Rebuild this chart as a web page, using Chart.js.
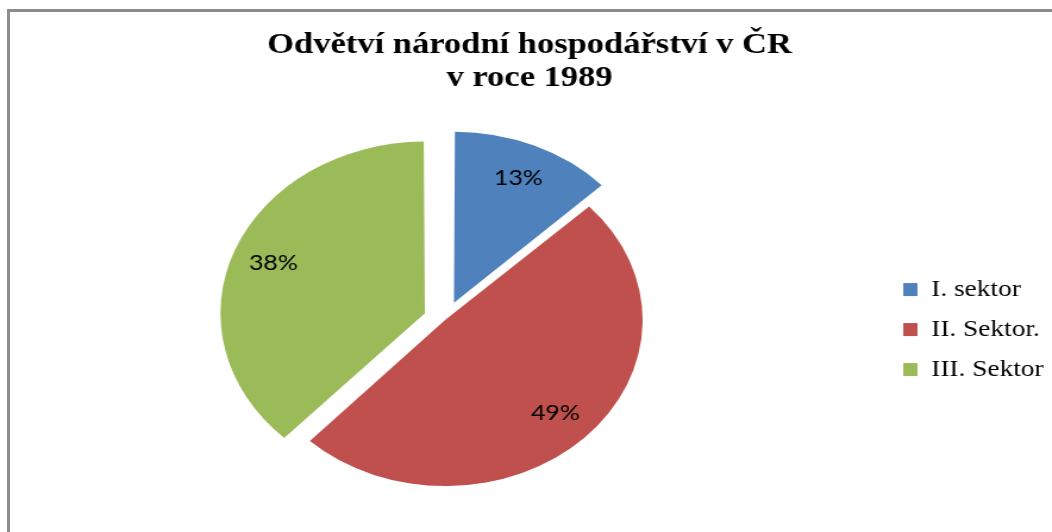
<!DOCTYPE html>
<html>
<head>
<meta charset="utf-8">
<script src="https://cdn.jsdelivr.net/npm/chart.js@4.4.1/dist/chart.umd.min.js"></script>
<style>
  html, body { margin: 0; padding: 0; background: #fff; overflow: hidden; }
  #frame {
    position: absolute; left: 7px; top: 9px; width: 1100px; height: 600px;
    border-left: 3px solid #8c8c8c; border-top: 3px solid #8c8c8c;
  }
  /* the original picture is stretched sideways, so the canvas is too */
  #chart { position: absolute; left: 0; top: 0; transform: scaleX(1.19); transform-origin: 0 0; }
</style>
</head>
<body>
<div id="frame"></div>
<canvas id="chart" width="884" height="532"></canvas>
<script>
const titleLines = ["Odvětví národní hospodářství v ČR", "v roce 1989"];
const sectors = ["I. sektor", "II. Sektor.", "III. Sektor"];
const shares = [13, 49, 38];
const colors = ["#4F81BD", "#C0504D", "#9BBB59"];

// percentages written inside the slices
const percentLabels = {
  id: "percentLabels",
  afterDatasetsDraw(chart) {
    const meta = chart.getDatasetMeta(0);
    const total = shares.reduce((a, b) => a + b, 0);
    const ctx = chart.ctx;
    ctx.save();
    ctx.font = "21px Lato";
    ctx.fillStyle = "#000";
    ctx.textAlign = "center";
    ctx.textBaseline = "middle";
    meta.data.forEach((arc, i) => {
      const p = arc.getProps(["x", "y", "startAngle", "endAngle", "outerRadius", "circumference"]);
      const mid = (p.startAngle + p.endAngle) / 2;
      const off = (arc.options.offset || 0) / 4;
      const fix = 1 - Math.sin(Math.min(Math.PI, p.circumference || 0));
      const d = off * (1 + fix) + p.outerRadius * 0.79;
      const text = Math.round((shares[i] / total) * 100) + "%";
      ctx.fillText(text, p.x + Math.cos(mid) * d, p.y + Math.sin(mid) * d);
    });
    ctx.restore();
  },
};

new Chart(document.getElementById("chart"), {
  type: "pie",
  data: {
    labels: sectors,
    datasets: [
      {
        data: shares,
        backgroundColor: colors,
        borderWidth: 0,
        offset: [75, 0, 73],
        radius: 166,
      },
    ],
  },
  options: {
    responsive: false,
    animation: false,
    layout: { padding: { left: 6, right: 0, top: 0, bottom: 12 } },
    plugins: {
      title: {
        display: true,
        text: titleLines,
        color: "#000",
        font: { family: "Liberation Serif", size: 29, weight: "bold", lineHeight: 1.14 },
        padding: { top: 29, bottom: 25 },
      },
      legend: {
        position: "right",
        fullSize: false,
        maxWidth: 142,
        title: { display: true, text: "", font: { size: 10, lineHeight: 1.9 }, padding: 0 },
        labels: {
          color: "#000",
          font: { family: "Liberation Serif", size: 23 },
          boxWidth: 12,
          boxHeight: 13,
          padding: 17,
        },
      },
      tooltip: { enabled: false },
    },
  },
  plugins: [percentLabels],
});
</script>
</body>
</html>
